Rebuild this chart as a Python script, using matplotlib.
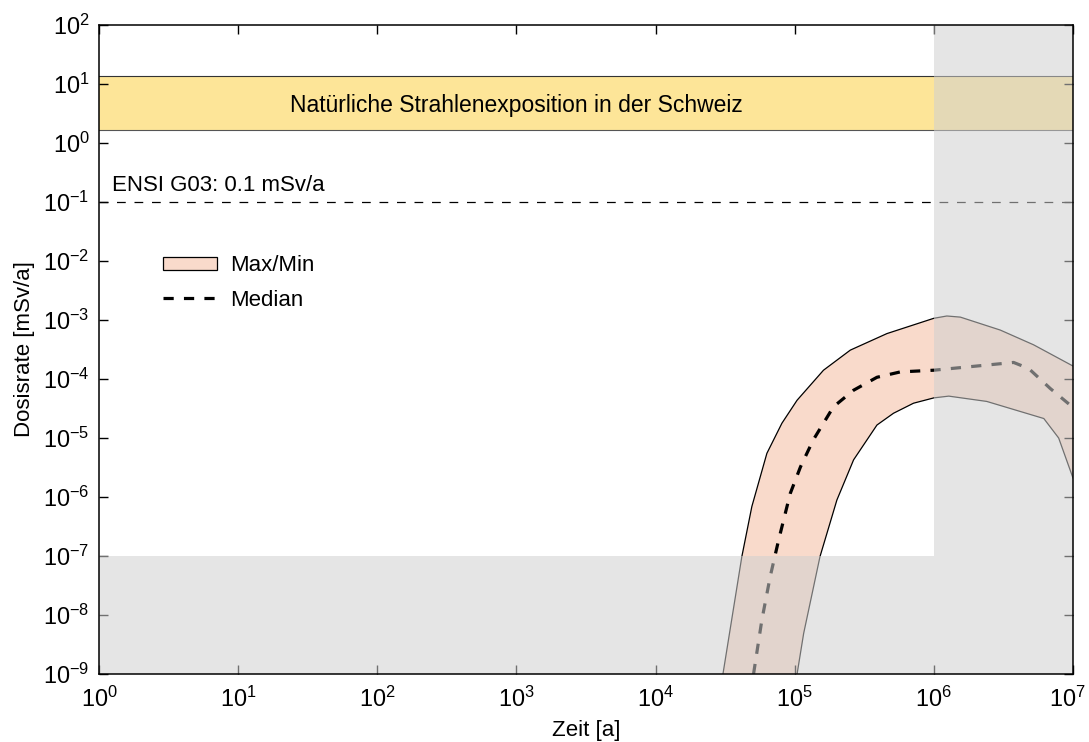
import numpy as np
import matplotlib
matplotlib.use("Agg")
import matplotlib.pyplot as plt
import matplotlib.transforms as mtransforms
from matplotlib.patches import Patch
from matplotlib.lines import Line2D

plt.rcParams["font.family"] = ["Liberation Sans", "DejaVu Sans"]
plt.rcParams["mathtext.fontset"] = "custom"
plt.rcParams["mathtext.rm"] = "Liberation Sans"
plt.rcParams["mathtext.it"] = "Liberation Sans:italic"
plt.rcParams["axes.unicode_minus"] = False

# Max/Min envelope and median
t_max = [3.05e4, 4.17e4, 4.92e4, 6.31e4, 8.09e4, 1.04e5, 1.61e5, 2.51e5,
         4.60e5, 1.0e6, 1.24e6, 1.55e6, 3.0e6, 5.21e6, 1e7]
d_max = [1e-9, 9.8e-8, 6.9e-7, 5.5e-6, 1.78e-5, 4.37e-5, 1.41e-4, 3.09e-4,
         5.89e-4, 1.07e-3, 1.17e-3, 1.12e-3, 6.76e-4, 3.80e-4, 1.66e-4]

t_min = [1.04e5, 1.16e5, 1.52e5, 2.01e5, 2.65e5, 3.90e5, 5.13e5, 7.14e5,
         1.0e6, 1.28e6, 2.40e6, 6.17e6, 7.89e6, 1e7]
d_min = [1e-9, 4.9e-9, 9.8e-8, 8.9e-7, 4.27e-6, 1.66e-5, 2.63e-5, 3.89e-5,
         4.79e-5, 5.13e-5, 4.17e-5, 2.14e-5, 1e-5, 2.1e-6]

t_med = [5.06e4, 5.81e4, 6.67e4, 7.66e4, 9.29e4, 1.10e5, 1.36e5, 1.90e5,
         2.65e5, 3.90e5, 5.74e5, 1.0e6, 3.74e6, 4.80e6, 6.87e6, 1e7]
d_med = [1e-9, 8.3e-9, 4.5e-8, 1.86e-7, 1.15e-6, 3.24e-6, 9.3e-6, 3.39e-5,
         6.46e-5, 1.07e-4, 1.32e-4, 1.41e-4, 1.91e-4, 1.51e-4, 6.9e-5, 3.3e-5]

# natural exposure band and guideline
band_low, band_high = 1.65, 13.7
ensi_limit = 0.1

fig = plt.figure(figsize=(10.89, 7.42), dpi=100)
ax = fig.add_axes([0.0909, 0.0916, 0.8944, 0.8747])
ax.set_xscale("log")
ax.set_yscale("log")
ax.set_xlim(1, 1e7)
ax.set_ylim(1e-9, 1e2)

fs = 16

# yellow band
ax.axhspan(band_low, band_high, facecolor="#fde598", edgecolor="none", zorder=0.5)
ax.axhline(band_low, color="#555555", lw=0.8, zorder=0.6)
ax.axhline(band_high, color="#333333", lw=0.8, zorder=0.6)
ax.text(1e3, 4.3, "Natürliche Strahlenexposition in der Schweiz",
        ha="center", va="center", fontsize=16.5, zorder=0.7)

# ENSI guideline
ax.axhline(ensi_limit, color="black", lw=0.9, dashes=(7, 7), zorder=0.8)
ax.text(1.25, 0.125, "ENSI G03: 0.1 mSv/a", ha="left", va="bottom", fontsize=fs)

# envelope
poly_t = np.concatenate([t_max, t_min[::-1]])
poly_d = np.concatenate([d_max, d_min[::-1]])
ax.fill(poly_t, poly_d, facecolor="#f9dacb", edgecolor="none", zorder=1)
ax.plot(t_max, d_max, color="black", lw=0.9, zorder=1.2)
ax.plot(t_min, d_min, color="black", lw=0.9, zorder=1.2)
ax.plot(t_med, d_med, color="black", lw=2.3, dashes=(3.2, 3.2), zorder=1.3)

# gray overlays
ax.axvspan(1e6, 1e7, facecolor="#d0d0d0", alpha=0.54, edgecolor="none", zorder=2)
ax.fill_between([1, 1e6], 1e-9, 1e-7, facecolor="#d0d0d0", alpha=0.54,
                edgecolor="none", zorder=2)

# ticks
ax.set_xticks([10.0 ** k for k in range(0, 8)])
ax.set_yticks([10.0 ** k for k in range(-9, 3)])
ax.minorticks_off()
ax.tick_params(which="major", direction="in", length=6.5, width=1,
               top=True, right=True, labelsize=16.8)
ax.tick_params(axis="x", pad=9)
ax.tick_params(axis="y", pad=7)
for s in ax.spines.values():
    s.set_linewidth(1.1)
    s.set_zorder(5)

# keep the last x label inside the figure
last = ax.get_xticklabels()[-1]
last.set_transform(last.get_transform() +
                   mtransforms.ScaledTranslation(-6 / 100, 0, fig.dpi_scale_trans))

ax.set_xlabel("Zeit [a]", fontsize=fs, labelpad=6)
ax.set_ylabel("Dosisrate [mSv/a]", fontsize=fs, labelpad=6)

handles = [Patch(facecolor="#f9dacb", edgecolor="black", lw=0.9),
           Line2D([], [], color="black", lw=2.3, dashes=(3.2, 3.2))]
ax.legend(handles, ["Max/Min", "Median"], loc="center left",
          bbox_to_anchor=(0.066, 0.6025), frameon=False, fontsize=fs,
          borderaxespad=0, borderpad=0, handlelength=2.4, handleheight=0.55,
          handletextpad=0.6, labelspacing=0.6)

fig.savefig("out.png", dpi=100)
